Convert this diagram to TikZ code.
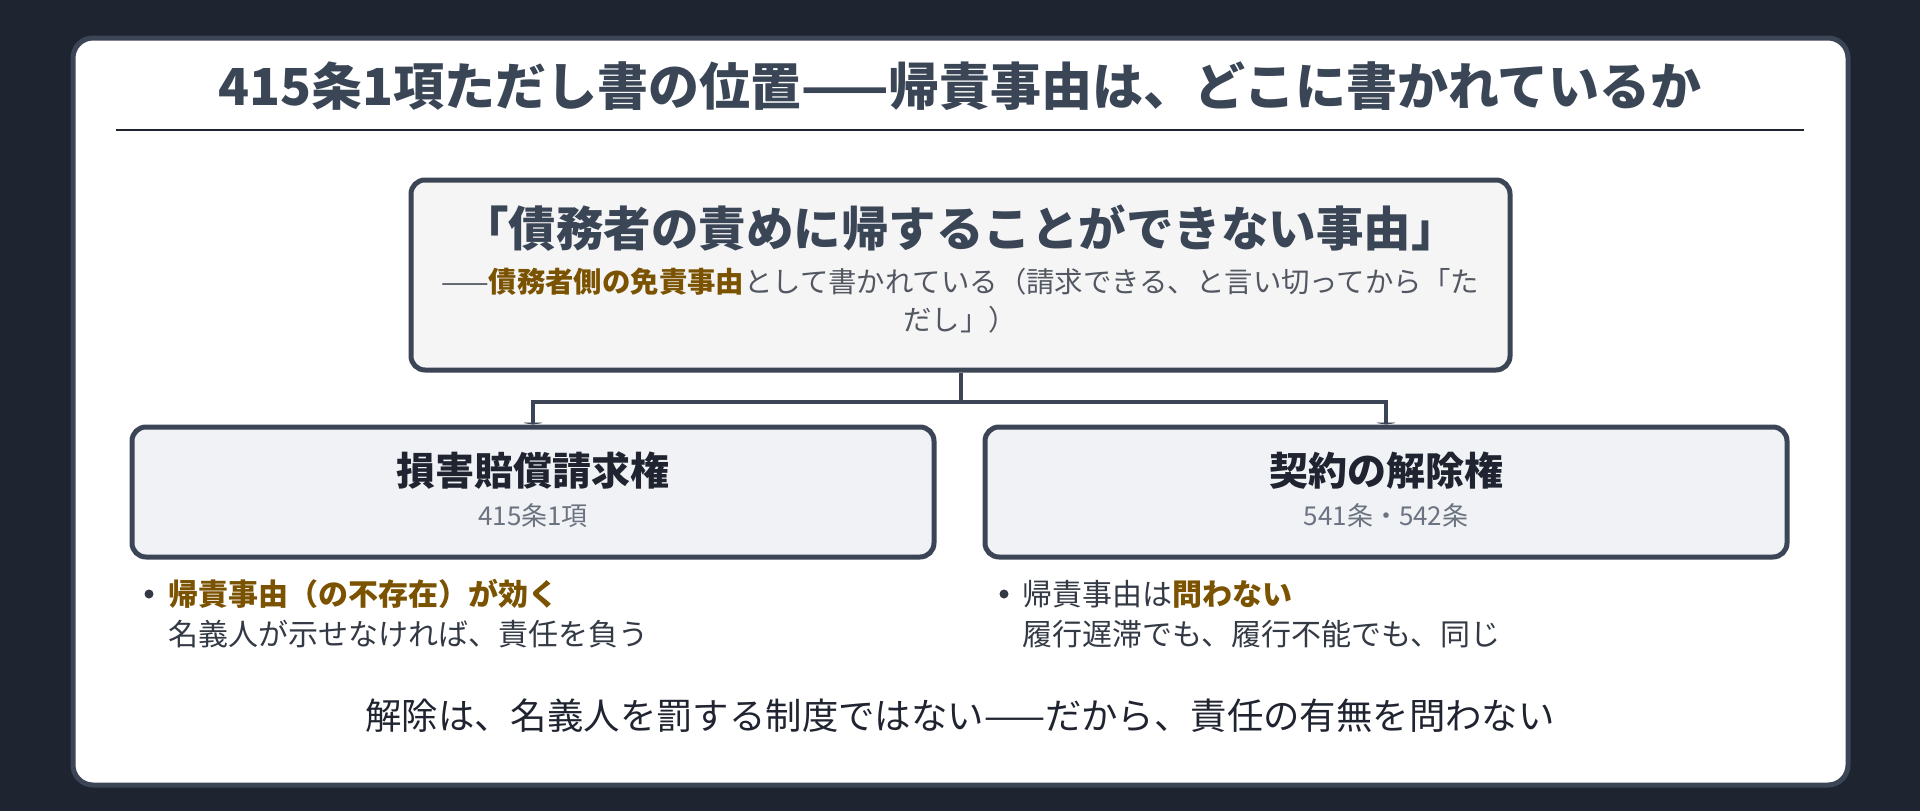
\documentclass[tikz,border=0pt]{standalone}
\usepackage{fontspec}
\setmainfont{Noto Sans CJK JP}
\usetikzlibrary{arrows.meta}
\definecolor{pagebg}{HTML}{1E2530}
\definecolor{edgegray}{HTML}{3C4555}
\definecolor{titleink}{HTML}{3A4556}
\definecolor{darkink}{HTML}{1F2430}
\definecolor{bodyink}{HTML}{333A45}
\definecolor{subgray}{HTML}{6B7280}
\definecolor{accent}{HTML}{7A5200}
\definecolor{topfill}{HTML}{F5F5F6}
\definecolor{childfill}{HTML}{F0F2F5}

\newcommand{\fs}[1]{\fontsize{#1}{#1}\selectfont}

\tikzset{
  topbox/.style={draw=edgegray, line width=5, fill=topfill, rounded corners=14,
    minimum width=1099, minimum height=190, inner sep=0},
  childbox/.style={draw=edgegray, line width=5, fill=childfill, rounded corners=14,
    minimum width=802, minimum height=130, inner sep=0},
  link/.style={draw=edgegray, line width=4},
  dot/.style={circle, fill=bodyink, minimum size=9, inner sep=0},
  item/.style={anchor=west, inner sep=0, text=bodyink}
}

\begin{document}
\begin{tikzpicture}[x=1pt, y=-1pt]
    % Page and card
    \useasboundingbox (0,0) rectangle (1920,811);
    \fill[pagebg] (0,0) rectangle (1920,811);
    \draw[edgegray, line width=5, fill=white, rounded corners=20] (73,38) rectangle (1848,785);

    % Heading with rule under it
    \node[text=titleink, font=\fs{51}\bfseries] (title) at (960,86) {415条1項ただし書の位置——帰責事由は、どこに書かれているか};
    \draw[darkink, line width=2.5] (116,130) -- (1804,130);

    % Top box
    \node[topbox] (claim) at (960.5,275) {};
    \node[text=titleink, font=\fs{47.5}\bfseries] (claimhead) at (960,228) {「債務者の責めに帰することができない事由」};
    \node[text=bodyink!85, font=\fs{28.4}] (claimnote) at (960,282) {——\textcolor{accent}{\bfseries 債務者側の免責事由}として書かれている（請求できる、と言い切ってから「た};
    \node[text=bodyink!85, font=\fs{28.4}] (claimnote2) at (960,320) {だし」）};

    % Two remedies
    \node[childbox] (damages) at (533,492) {};
    \node[childbox] (rescission) at (1386,492) {};
    \node[text=darkink, font=\fs{39}\bfseries] (damageshead) at (533,471) {損害賠償請求権};
    \node[text=subgray, font=\fs{26}] (damagesref) at (533,516) {415条1項};
    \node[text=darkink, font=\fs{39}\bfseries] (rescissionhead) at (1386,471) {契約の解除権};
    \node[text=subgray, font=\fs{26}] (rescissionref) at (1386,516) {541条・542条};

    % Connectors from top box to both remedies
    \draw[link] (claim.south) -- ++(0,29) coordinate (fork);
    \draw[link, -{Triangle[length=2, width=24]}] (fork) -| (damages.north);
    \draw[link, -{Triangle[length=2, width=24]}] (fork) -| (rescission.north);

    % Notes under each remedy
    \node[dot] (dotL) at (149,594) {};
    \node[item, font=\fs{30}\bfseries, text=accent] (noteL) at (168,594) {帰責事由（の不存在）が効く};
    \node[item, font=\fs{30}] (noteL2) at (168,634) {名義人が示せなければ、責任を負う};
    \node[dot] (dotR) at (1004,594) {};
    \node[item, font=\fs{30}] (noteR) at (1022,594) {帰責事由は\textcolor{accent}{\bfseries 問わない}};
    \node[item, font=\fs{30}] (noteR2) at (1022,634) {履行遅滞でも、履行不能でも、同じ};

    % Closing line
    \node[text=darkink, font=\fs{36.4}] (closing) at (960,716) {解除は、名義人を罰する制度ではない——だから、責任の有無を問わない};
\end{tikzpicture}
\end{document}
